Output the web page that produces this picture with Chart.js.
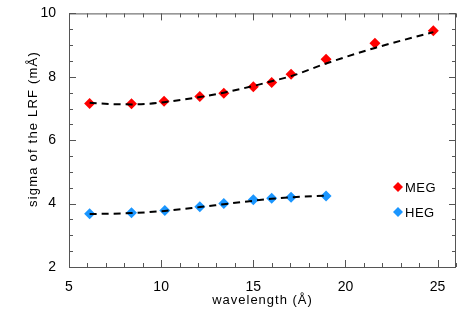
<!DOCTYPE html>
<html lang="en">
<head>
    <meta charset="UTF-8">
    <title>LRF sigma vs wavelength</title>
    <style>
        body { margin: 0; background: #fff; }
        #wrap { width: 463px; height: 309px; }
    </style>
</head>
<body>
    <div id="wrap"><canvas id="lrfChart" width="463" height="309"></canvas></div>

    <script src="https://cdn.jsdelivr.net/npm/chart.js"></script>
    <script>
        // measured points
        const megWave = [6.12, 8.39, 10.16, 12.1, 13.4, 15.0, 16.0, 17.05, 18.95, 21.6, 24.77];
        const megSigma = [7.16, 7.15, 7.23, 7.38, 7.48, 7.69, 7.82, 8.08, 8.55, 9.06, 9.45];
        const hegWave = [6.12, 8.39, 10.2, 12.1, 13.4, 15.0, 16.0, 17.05, 18.95];
        const hegSigma = [3.68, 3.71, 3.78, 3.90, 4.00, 4.12, 4.17, 4.20, 4.24];

        // fitted curves
        const megFitWave = [6.12, 7.3, 8.39, 9.35, 10.16, 12.1, 13.4, 15.0, 16.0, 17.05, 18.95, 21.6, 24.77];
        const megFitSigma = [7.18, 7.14, 7.13, 7.15, 7.2, 7.36, 7.5, 7.71, 7.86, 8.02, 8.42, 8.91, 9.41];
        const hegFitWave = [6.12, 8.39, 10.2, 12.1, 13.4, 15.0, 16.0, 17.05, 18.95];
        const hegFitSigma = [3.67, 3.70, 3.77, 3.89, 3.98, 4.09, 4.15, 4.20, 4.25];

        const xTicks = [5, 10, 15, 20, 25];
        const yTicks = [2, 4, 6, 8, 10];
        const xMinorStep = 1;
        const yMinorStep = 0.5;
        const xTitle = "wavelength (Å)";
        const yTitle = "sigma of the LRF (mÅ)";

        const RED = "#ff0000";
        const BLUE = "#1a96ff";
        const FONT = "'Liberation Sans', Arial, sans-serif";

        const pts = (xs, ys) => xs.map((x, i) => ({ x: x, y: ys[i] }));

        // box with inward ticks on all sides, axis titles, legend inside the plot
        const boxPlugin = {
            id: "box",
            afterDraw(chart) {
                const ctx = chart.ctx;
                const a = chart.chartArea;
                const xs = chart.scales.x, ys = chart.scales.y;
                ctx.save();
                ctx.strokeStyle = "#555";
                ctx.lineWidth = 1;
                ctx.strokeRect(a.left + 0.5, a.top + 0.5, a.right - a.left - 1, a.bottom - a.top);
                ctx.beginPath();
                for (let v = xs.min; v <= xs.max + 1e-6; v += xMinorStep) {
                    const px = Math.round(xs.getPixelForValue(v)) + 0.5;
                    const len = xTicks.includes(Math.round(v)) ? 7 : 4;
                    ctx.moveTo(px, a.bottom); ctx.lineTo(px, a.bottom - len);
                    ctx.moveTo(px, a.top); ctx.lineTo(px, a.top + len);
                }
                for (let v = ys.min; v <= ys.max + 1e-6; v += yMinorStep) {
                    const py = Math.round(ys.getPixelForValue(v)) + 0.5;
                    const len = yTicks.includes(v) ? 7 : 4;
                    ctx.moveTo(a.left, py); ctx.lineTo(a.left + len, py);
                    ctx.moveTo(a.right, py); ctx.lineTo(a.right - len, py);
                }
                ctx.stroke();

                // axis titles
                ctx.fillStyle = "#000";
                ctx.font = "13px " + FONT;
                ctx.letterSpacing = "1px";
                ctx.textAlign = "center";
                ctx.textBaseline = "middle";
                ctx.fillText(xTitle, (a.left + a.right) / 2, 300);
                ctx.save();
                ctx.translate(33, 129);
                ctx.rotate(-Math.PI / 2);
                ctx.letterSpacing = "1.2px";
                ctx.fillText(yTitle, 0, 0);
                ctx.restore();

                // legend
                const items = [["MEG", RED, 187], ["HEG", BLUE, 212]];
                ctx.textAlign = "left";
                ctx.letterSpacing = "0.5px";
                items.forEach(([label, col, y]) => {
                    const cx = 398;
                    ctx.fillStyle = col;
                    ctx.beginPath();
                    ctx.moveTo(cx, y - 5); ctx.lineTo(cx + 5, y); ctx.lineTo(cx, y + 5); ctx.lineTo(cx - 5, y);
                    ctx.closePath(); ctx.fill();
                    ctx.fillStyle = "#000";
                    ctx.fillText(label, cx + 7, y + 1);
                });
                ctx.restore();
            }
        };

        const fitStyle = {
            type: "line",
            borderColor: "#000",
            borderWidth: 2,
            borderDash: [7, 5],
            pointRadius: 0,
            fill: false,
            cubicInterpolationMode: "monotone"
        };

        new Chart(document.getElementById("lrfChart"), {
            type: "scatter",
            data: {
                datasets: [
                    Object.assign({ label: "MEG fit", data: pts(megFitWave, megFitSigma), showLine: true }, fitStyle),
                    Object.assign({ label: "HEG fit", data: pts(hegFitWave, hegFitSigma), showLine: true }, fitStyle),
                    { label: "MEG", data: pts(megWave, megSigma), pointStyle: "rectRot", pointRadius: 5.5,
                      backgroundColor: RED, borderColor: RED, borderWidth: 0 },
                    { label: "HEG", data: pts(hegWave, hegSigma), pointStyle: "rectRot", pointRadius: 5.5,
                      backgroundColor: BLUE, borderColor: BLUE, borderWidth: 0 }
                ]
            },
            options: {
                responsive: false,
                animation: false,
                layout: { padding: { top: 5, right: 7, left: 0, bottom: 0 } },
                plugins: { legend: { display: false }, tooltip: { enabled: false } },
                scales: {
                    x: {
                        type: "linear",
                        min: 5, max: 26,
                        afterBuildTicks: s => { s.ticks = xTicks.map(v => ({ value: v })); },
                        afterFit: s => { s.height = 42; },
                        grid: { display: false },
                        border: { display: false },
                        ticks: { color: "#000", font: { family: FONT, size: 14 }, padding: 4, maxRotation: 0 }
                    },
                    y: {
                        min: 2, max: 10,
                        afterBuildTicks: s => { s.ticks = yTicks.map(v => ({ value: v })); },
                        afterFit: s => { s.width = 69; },
                        grid: { display: false },
                        border: { display: false },
                        ticks: { color: "#000", font: { family: FONT, size: 14 }, padding: 5 }
                    }
                }
            },
            plugins: [boxPlugin]
        });
    </script>
</body>
</html>
